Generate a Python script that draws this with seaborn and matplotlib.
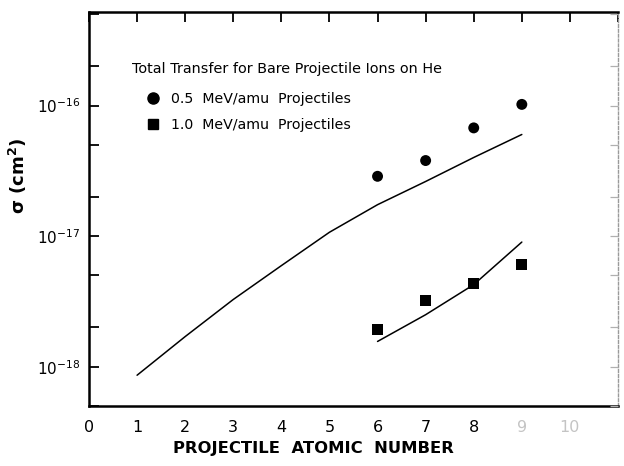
import numpy as np
import pandas as pd
import matplotlib
matplotlib.use("Agg")
import matplotlib.pyplot as plt
from matplotlib.lines import Line2D
import seaborn as sns

# Measured total transfer cross sections (cm^2) for bare projectiles on He
z_meas = [6, 7, 8, 9]
sigma_05 = [2.87e-17, 3.79e-17, 6.74e-17, 1.02e-16]   # 0.5 MeV/amu
sigma_10 = [1.92e-18, 3.22e-18, 4.31e-18, 6.05e-18]   # 1.0 MeV/amu

# Theoretical curves
z_theory_05 = [1, 2, 3, 4, 5, 6, 7, 8, 9]
theory_05 = [8.6e-19, 1.70e-18, 3.27e-18, 5.94e-18, 1.07e-17,
             1.74e-17, 2.62e-17, 4.0e-17, 6.0e-17]
z_theory_10 = [6, 7, 8, 9]
theory_10 = [1.56e-18, 2.50e-18, 4.25e-18, 9.0e-18]

x_ticks = list(range(0, 12))
x_tick_labels = [str(v) for v in range(0, 11)] + [""]
y_major = [1e-18, 1e-17, 1e-16]
y_major_labels = [r"$10^{-18}$", r"$10^{-17}$", r"$10^{-16}$"]

legend_title = "Total Transfer for Bare Projectile Ions on He"
legend_labels = ["0.5  MeV/amu  Projectiles", "1.0  MeV/amu  Projectiles"]

sns.set_theme(style="white")
plt.rcParams["font.family"] = ["DejaVu Sans"]
plt.rcParams["mathtext.fontset"] = "dejavusans"
plt.rcParams["text.color"] = "black"
plt.rcParams["axes.labelcolor"] = "black"
plt.rcParams["xtick.color"] = "black"
plt.rcParams["ytick.color"] = "black"

fig = plt.figure(figsize=(6.24, 4.66), dpi=100)
ax = fig.add_axes([0.1426, 0.1288, 0.8478, 0.8454])

meas = pd.DataFrame({
    "Z": z_meas * 2,
    "sigma": sigma_05 + sigma_10,
    "energy": [legend_labels[0]] * 4 + [legend_labels[1]] * 4,
})
th05 = pd.DataFrame({"Z": z_theory_05, "sigma": theory_05})
th10 = pd.DataFrame({"Z": z_theory_10, "sigma": theory_10})

sns.lineplot(data=th05, x="Z", y="sigma", color="black", lw=1.1, ax=ax)
sns.lineplot(data=th10, x="Z", y="sigma", color="black", lw=1.1, ax=ax)
sns.scatterplot(data=meas, x="Z", y="sigma", style="energy",
                markers={legend_labels[0]: "o", legend_labels[1]: "s"},
                color="black", s=62, edgecolor="black", linewidth=0,
                legend=False, ax=ax, zorder=3)

ymin, ymax = 5e-19, 5.2e-16
ax.set_yscale("log")
ax.set_xlim(0, 11)
ax.set_ylim(ymin, ymax)

ax.set_xticks(x_ticks)
ax.set_xticklabels(x_tick_labels, fontsize=11.5)
for lbl, v in zip(ax.get_xticklabels(), x_ticks):
    lbl.set_color("#c4c4c4" if v >= 9 else "black")
ax.set_yticks(y_major)
ax.set_yticklabels(y_major_labels, fontsize=11)
ax.yaxis.set_minor_locator(matplotlib.ticker.LogLocator(base=10, subs=(2.0, 5.0)))
ax.yaxis.set_minor_formatter(matplotlib.ticker.NullFormatter())

ax.tick_params(which="both", direction="in", length=7, width=1.3,
               top=True, right=False, color="black", pad=6)
ax.tick_params(axis="x", pad=10)

# faint ticks along the right-hand frame
ax_r = ax.twinx()
ax_r.set_yscale("log")
ax_r.set_ylim(ymin, ymax)
ax_r.set_yticks(y_major)
ax_r.yaxis.set_minor_locator(matplotlib.ticker.LogLocator(base=10, subs=(2.0, 5.0)))
ax_r.tick_params(which="both", direction="in", length=6, width=0.9,
                 color="#b0b0b0", labelright=False)
ax_r.yaxis.set_minor_formatter(matplotlib.ticker.NullFormatter())
for s in ax_r.spines.values():
    s.set_visible(False)

for side in ["left", "bottom", "top"]:
    ax.spines[side].set_color("black")
    ax.spines[side].set_linewidth(1.8)
ax.spines["right"].set_color("#9a9a9a")
ax.spines["right"].set_linewidth(1.0)
ax.spines["right"].set_linestyle((0, (2, 1.5)))

ax.set_xlabel("PROJECTILE  ATOMIC  NUMBER", fontsize=11.8, fontweight="bold")
ax.xaxis.set_label_coords(0.424, -0.088)
ax.set_ylabel("σ (cm$^{\\mathbf{2}}$)", fontsize=13, fontweight="bold")
ax.yaxis.set_label_coords(-0.113, 0.584)

ax.text(0.081, 0.855, legend_title, transform=ax.transAxes,
        fontsize=10.4, va="center", ha="left")
handles = [
    Line2D([], [], marker="o", ls="none", color="black", markersize=8),
    Line2D([], [], marker="s", ls="none", color="black", markersize=7.5),
]
ax.legend(handles, legend_labels, loc="upper left",
          bbox_to_anchor=(0.108, 0.797), frameon=False, fontsize=10.2,
          handletextpad=0.75, labelspacing=0.85, handlelength=1.0,
          borderaxespad=0, borderpad=0)

fig.savefig("out.png", dpi=100, facecolor="white")
